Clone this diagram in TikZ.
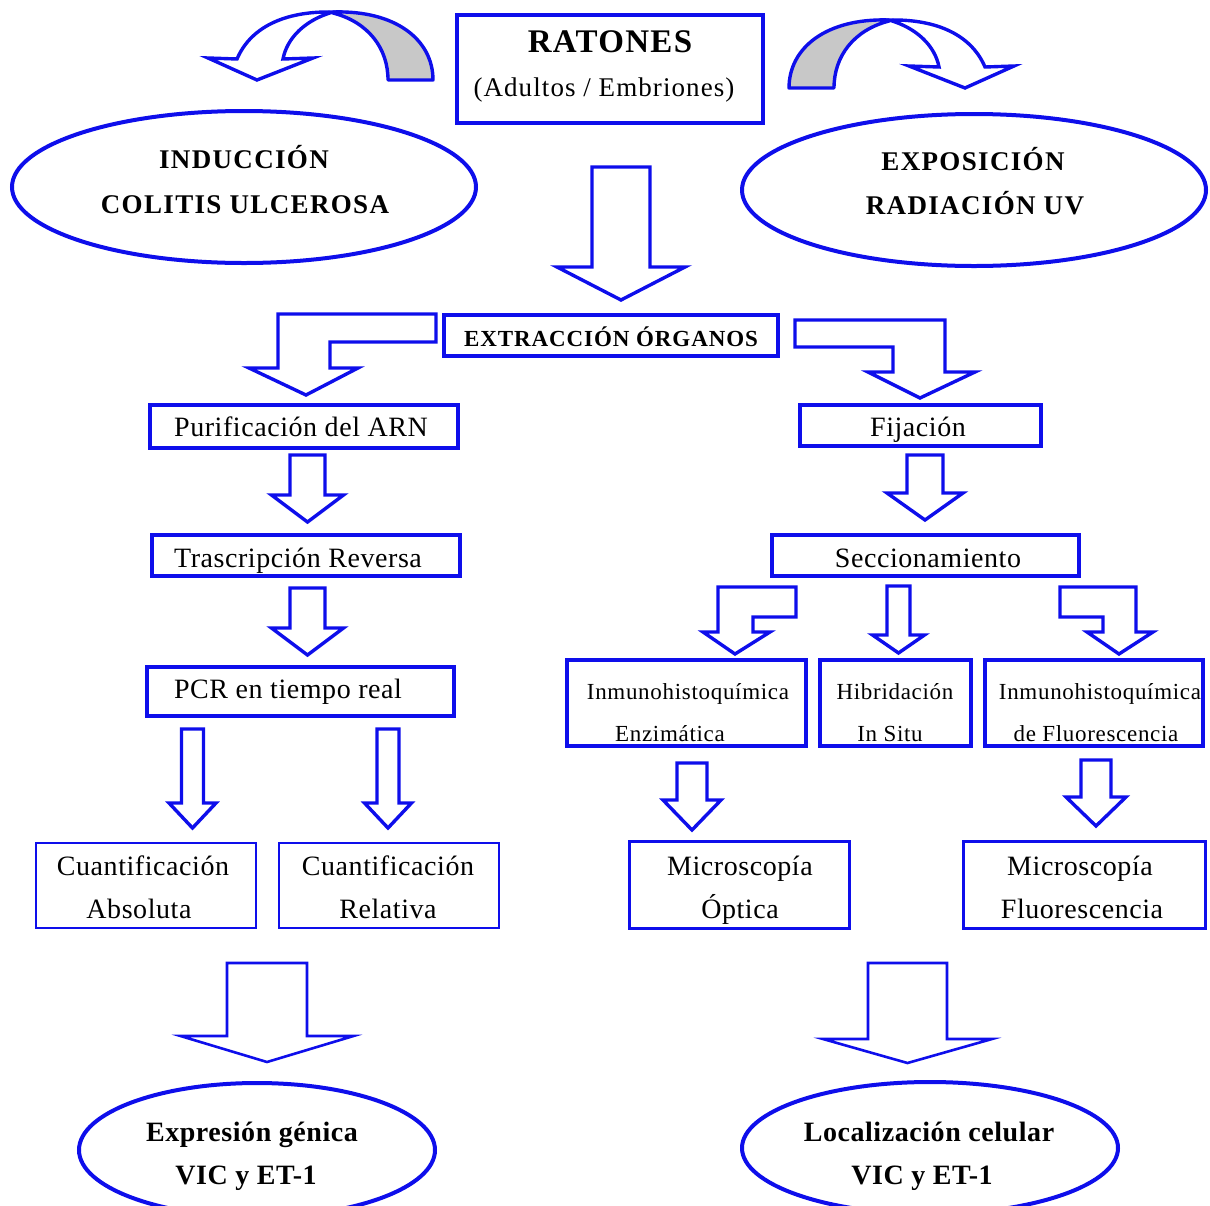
\documentclass[tikz,border=0pt]{standalone}
\usepackage{fontspec}
\setmainfont{Liberation Serif}
\newfontfamily\lsa[LetterSpace=2]{Liberation Serif}
\newfontfamily\lsb[LetterSpace=3]{Liberation Serif}
\newfontfamily\lsc[LetterSpace=4]{Liberation Serif}
\newfontfamily\lsd[LetterSpace=5]{Liberation Serif}
\usetikzlibrary{shapes.geometric}
\definecolor{bl}{RGB}{14,14,235}
\definecolor{gr}{RGB}{200,200,200}
\newcommand{\dnarrow}[7]{%
  \draw[#7] ({#1-#2},#3) -- ({#1+#2},#3) -- ({#1+#2},#4) -- ({#1+#5},#4) -- (#1,#6) -- ({#1-#5},#4) -- ({#1-#2},#4) -- cycle;}
\begin{document}
\begin{tikzpicture}[x=1pt,y=-1pt,
  box/.style={draw=bl, line width=4pt, fill=white, inner sep=0pt},
  thinbox/.style={draw=bl, line width=2.6pt, fill=white, inner sep=0pt},
  ell/.style={ellipse, draw=bl, line width=4pt, fill=white, inner sep=0pt},
  arr/.style={draw=bl, line width=3.4pt, fill=white, line join=miter},
  bigarr/.style={draw=bl, line width=2.6pt, fill=white, line join=miter},
  tx/.style={anchor=base, inner sep=0pt, font=\fontsize{28}{30}\lsa},
  txs/.style={anchor=base, inner sep=0pt, font=\fontsize{23}{25}\lsb},
  txb/.style={anchor=base, inner sep=0pt, font=\fontsize{28}{30}\lsa\bfseries},
  txt/.style={anchor=base, inner sep=0pt, font=\fontsize{27}{29}\lsd\bfseries},
  txe/.style={anchor=base, inner sep=0pt, font=\fontsize{23}{25}\lsc\bfseries}]
\useasboundingbox (0,0) rectangle (1210,1205);
\clip (0,0) rectangle (1210,1205);

% ---------- curved arrows (top) ----------
\begin{scope}
  \draw[draw=bl, line width=3.4pt, fill=gr, line join=round]
    (333,12) .. controls (396,10) and (433,40) .. (433,80) -- (388,80)
    .. controls (388,48) and (368,22) .. (333,13) -- cycle;
  \draw[arr] (237,59) .. controls (252,24) and (290,11) .. (333,12)
    .. controls (305,20) and (287,38) .. (283,59) -- (313,58) -- (257,80) -- (208,58) -- cycle;
\end{scope}
\begin{scope}[shift={(1222,8)}, xscale=-1]
  \draw[draw=bl, line width=3.4pt, fill=gr, line join=round]
    (333,12) .. controls (396,10) and (433,40) .. (433,80) -- (388,80)
    .. controls (388,48) and (368,22) .. (333,13) -- cycle;
  \draw[arr] (237,59) .. controls (252,24) and (290,11) .. (333,12)
    .. controls (305,20) and (287,38) .. (283,59) -- (313,58) -- (257,80) -- (208,58) -- cycle;
\end{scope}

% ---------- top box ----------
\node[box, minimum width=306pt, minimum height=108pt] (ratones) at (610,69) {};
\node[tx, font=\fontsize{33}{35}\lsc\bfseries] (ratones-a) at (610,52) {RATONES};
\node[tx, font=\fontsize{27}{29}\lsc] (ratones-b) at (604,96) {(Adultos / Embriones)};

% ---------- ellipses ----------
\node[ell, minimum width=464pt, minimum height=152pt] (induccion) at (244,187) {};
\node[txt] (induccion-a) at (244,168) {INDUCCIÓN};
\node[txt] (induccion-b) at (245,213) {COLITIS ULCEROSA};

\node[ell, minimum width=464pt, minimum height=152pt] (exposicion) at (974,190) {};
\node[txt] (exposicion-a) at (973,170) {EXPOSICIÓN};
\node[txt] (exposicion-b) at (975,214) {RADIACIÓN UV};

% ---------- big arrow to extraction ----------
\dnarrow{621}{29}{167}{267}{64}{300}{arr}

\node[box, minimum width=334pt, minimum height=41pt] (extraccion) at (611,335.5) {};
\node[txe] (extraccion-t) at (611,346) {EXTRACCIÓN ÓRGANOS};

% ---------- bent arrows from extraction ----------
\draw[arr] (436,314) -- (278,314) -- (278,368) -- (249,368) -- (306,395) -- (358,368)
  -- (330,368) -- (330,342) -- (436,342) -- cycle;
\draw[arr] (795,320) -- (945,320) -- (945,372) -- (975,372) -- (920,398) -- (868,372)
  -- (893,372) -- (893,347) -- (795,347) -- cycle;

% ---------- left column ----------
\node[box, minimum width=308pt, minimum height=43pt] (purificacion) at (304,426.5) {};
\node[tx] (purificacion-t) at (301,436) {Purificación del ARN};
\dnarrow{307.5}{17.5}{455}{495}{36}{522}{arr}
\node[box, minimum width=308pt, minimum height=41pt] (trascripcion) at (306,555.5) {};
\node[tx] (trascripcion-t) at (298,567) {Trascripción Reversa};
\dnarrow{307.5}{17.5}{588}{628}{36}{655}{arr}
\node[box, minimum width=307pt, minimum height=49pt] (pcr) at (300.5,691.5) {};
\node[tx] (pcr-t) at (288,698) {PCR en tiempo real};
\dnarrow{192.5}{11}{729}{803}{23.5}{828}{arr}
\dnarrow{388}{11}{729}{803}{23.5}{828}{arr}

\node[thinbox, minimum width=220pt, minimum height=85pt] (absoluta) at (146,885.5) {};
\node[tx] (absoluta-a) at (143,875) {Cuantificación};
\node[tx] (absoluta-b) at (139,918) {Absoluta};
\node[thinbox, minimum width=220pt, minimum height=85pt] (relativa) at (389,885.5) {};
\node[tx] (relativa-a) at (388,875) {Cuantificación};
\node[tx] (relativa-b) at (388,918) {Relativa};

\dnarrow{267}{40}{963}{1036}{86.5}{1062}{bigarr}
\node[ell, minimum width=356pt, minimum height=134pt] (expresion) at (257,1150) {};
\node[txb] (expresion-a) at (252,1141) {Expresión génica};
\node[txb] (expresion-b) at (246,1184) {VIC y ET-1};

% ---------- right column ----------
\node[box, minimum width=241pt, minimum height=41pt] (fijacion) at (920.5,425.5) {};
\node[tx] (fijacion-t) at (918,436) {Fijación};
\dnarrow{925}{18}{455}{493}{38}{520}{arr}
\node[box, minimum width=307pt, minimum height=41pt] (seccion) at (925.5,555.5) {};
\node[tx] (seccion-t) at (928,567) {Seccionamiento};

\draw[arr] (796,587) -- (718,587) -- (718,632) -- (703,632) -- (735,654) -- (770,632)
  -- (753,632) -- (753,617) -- (796,617) -- cycle;
\dnarrow{898.5}{11.5}{586}{635}{26}{653}{arr}
\draw[arr] (1060,587) -- (1136,587) -- (1136,632) -- (1153,632) -- (1119,654) -- (1087,632)
  -- (1103,632) -- (1103,617) -- (1060,617) -- cycle;

\node[box, minimum width=239pt, minimum height=86pt] (enzimatica) at (686.5,703) {};
\node[txs] (enzimatica-a) at (688,699) {Inmunohistoquímica};
\node[txs] (enzimatica-b) at (670,741) {Enzimática};
\node[box, minimum width=151pt, minimum height=86pt] (hibridacion) at (895.5,703) {};
\node[txs] (hibridacion-a) at (895,699) {Hibridación};
\node[txs] (hibridacion-b) at (890,741) {In Situ};
\node[box, minimum width=218pt, minimum height=86pt] (fluor) at (1094,703) {};
\node[txs] (fluor-a) at (1100,699) {Inmunohistoquímica};
\node[txs] (fluor-b) at (1096,741) {de Fluorescencia};

\dnarrow{692}{15}{763}{800}{29}{830}{arr}
\dnarrow{1096}{15}{760}{797}{30}{826}{arr}

\node[box, line width=3.5pt, minimum width=220pt, minimum height=87pt] (optica) at (739.5,885) {};
\node[tx] (optica-a) at (740,875) {Microscopía};
\node[tx] (optica-b) at (740,918) {Óptica};
\node[box, line width=3.5pt, minimum width=242pt, minimum height=87pt] (mfluor) at (1084.5,885) {};
\node[tx] (mfluor-a) at (1080,875) {Microscopía};
\node[tx] (mfluor-b) at (1082,918) {Fluorescencia};

\dnarrow{907.5}{39.5}{963}{1039}{84.5}{1063}{bigarr}
\node[ell, minimum width=376pt, minimum height=132pt] (localizacion) at (930,1148) {};
\node[txb] (localizacion-a) at (929,1141) {Localización celular};
\node[txb] (localizacion-b) at (922,1184) {VIC y ET-1};
\end{tikzpicture}
\end{document}
